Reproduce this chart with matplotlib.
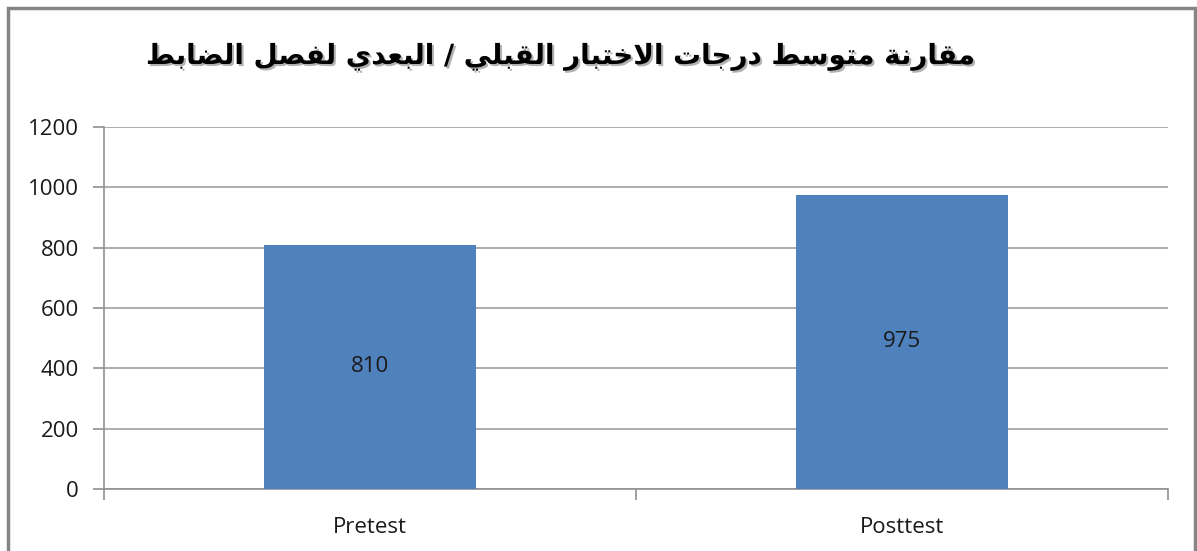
import matplotlib
matplotlib.use("Agg")
import matplotlib.pyplot as plt
import matplotlib.patheffects as pe
from matplotlib.patches import Rectangle

# data
categories = ["Pretest", "Posttest"]
values = [810, 975]
yticks = [0, 200, 400, 600, 800, 1000, 1200]
title_text = "مقارنة متوسط درجات الاختبار القبلي / البعدي لفصل الضابط"

# arabic presentation forms: (isolated, final, initial, medial)
forms = {
    "ا": ("\uFE8D", "\uFE8E"),
    "ب": ("\uFE8F", "\uFE90", "\uFE91", "\uFE92"),
    "ة": ("\uFE93", "\uFE94"),
    "ت": ("\uFE95", "\uFE96", "\uFE97", "\uFE98"),
    "ج": ("\uFE9D", "\uFE9E", "\uFE9F", "\uFEA0"),
    "خ": ("\uFEA5", "\uFEA6", "\uFEA7", "\uFEA8"),
    "د": ("\uFEA9", "\uFEAA"),
    "ر": ("\uFEAD", "\uFEAE"),
    "س": ("\uFEB1", "\uFEB2", "\uFEB3", "\uFEB4"),
    "ص": ("\uFEB9", "\uFEBA", "\uFEBB", "\uFEBC"),
    "ض": ("\uFEBD", "\uFEBE", "\uFEBF", "\uFEC0"),
    "ط": ("\uFEC1", "\uFEC2", "\uFEC3", "\uFEC4"),
    "ع": ("\uFEC9", "\uFECA", "\uFECB", "\uFECC"),
    "ف": ("\uFED1", "\uFED2", "\uFED3", "\uFED4"),
    "ق": ("\uFED5", "\uFED6", "\uFED7", "\uFED8"),
    "ل": ("\uFEDD", "\uFEDE", "\uFEDF", "\uFEE0"),
    "م": ("\uFEE1", "\uFEE2", "\uFEE3", "\uFEE4"),
    "ن": ("\uFEE5", "\uFEE6", "\uFEE7", "\uFEE8"),
    "و": ("\uFEED", "\uFEEE"),
    "ي": ("\uFEF1", "\uFEF2", "\uFEF3", "\uFEF4"),
    "LA": ("\uFEFB", "\uFEFC"),
}


def shape(text):
    # merge lam + alef into one ligature unit
    units = []
    i = 0
    while i < len(text):
        if text[i] == "ل" and i + 1 < len(text) and text[i + 1] == "ا":
            units.append("LA")
            i += 2
        else:
            units.append(text[i])
            i += 1
    out = []
    for k, u in enumerate(units):
        if u not in forms:
            out.append(u)
            continue
        prev = units[k - 1] if k > 0 else None
        nxt = units[k + 1] if k + 1 < len(units) else None
        join_prev = prev in forms and len(forms[prev]) == 4
        join_next = len(forms[u]) == 4 and nxt in forms
        f = forms[u]
        if join_prev and join_next:
            out.append(f[3])
        elif join_prev:
            out.append(f[1])
        elif join_next:
            out.append(f[2])
        else:
            out.append(f[0])
    return "".join(out)[::-1]


fig = plt.figure(figsize=(11.97, 5.51), dpi=100)
ax = fig.add_axes([104 / 1197, 1 - 489 / 551, 1064 / 1197, 362 / 551])

bars = ax.bar(range(len(categories)), values, width=0.4, color="#4f81bd", zorder=3)
for b, v in zip(bars, values):
    ax.text(b.get_x() + b.get_width() / 2, v / 2, str(v), ha="center", va="center",
            fontsize=16, family="Open Sans", color="#1a1a1a", zorder=4)

ax.set_xlim(-0.5, len(categories) - 0.5)
ax.set_ylim(0, 1200)
ax.set_yticks(yticks)
ax.set_yticklabels([str(t) for t in yticks], fontsize=16, family="Open Sans", color="#1a1a1a")
ax.yaxis.grid(True, color="#a0a0a0", linewidth=1.2, zorder=0)
ax.set_xticks(range(len(categories)))
ax.set_xticklabels(categories, fontsize=16, family="Open Sans", color="#1a1a1a")

# category boundary ticks like excel
ax.set_xticks([-0.5, 0.5, 1.5], minor=True)
ax.tick_params(axis="x", which="major", length=0, pad=20)
ax.tick_params(axis="x", which="minor", length=8, color="#909090", width=1.2)
ax.tick_params(axis="y", length=8, color="#909090", width=1.2, pad=10)

for s in ["top", "right"]:
    ax.spines[s].set_visible(False)
for s in ["left", "bottom"]:
    ax.spines[s].set_color("#909090")
    ax.spines[s].set_linewidth(1.2)

fig.text(560 / 1197, 1 - 57 / 551, shape(title_text), ha="center", va="center",
         fontsize=20, fontweight="bold", family="DejaVu Sans", color="black",
         path_effects=[pe.withSimplePatchShadow(offset=(1.5, -1.5), shadow_rgbFace="gray", alpha=0.6)])

# outer chart frame
fig.patches.append(Rectangle((8 / 1197, -0.05), 1187 / 1197, 1.05 - 8 / 551,
                             transform=fig.transFigure, fill=False,
                             edgecolor="#858585", linewidth=2.5))

fig.savefig("out.png", dpi=100)
